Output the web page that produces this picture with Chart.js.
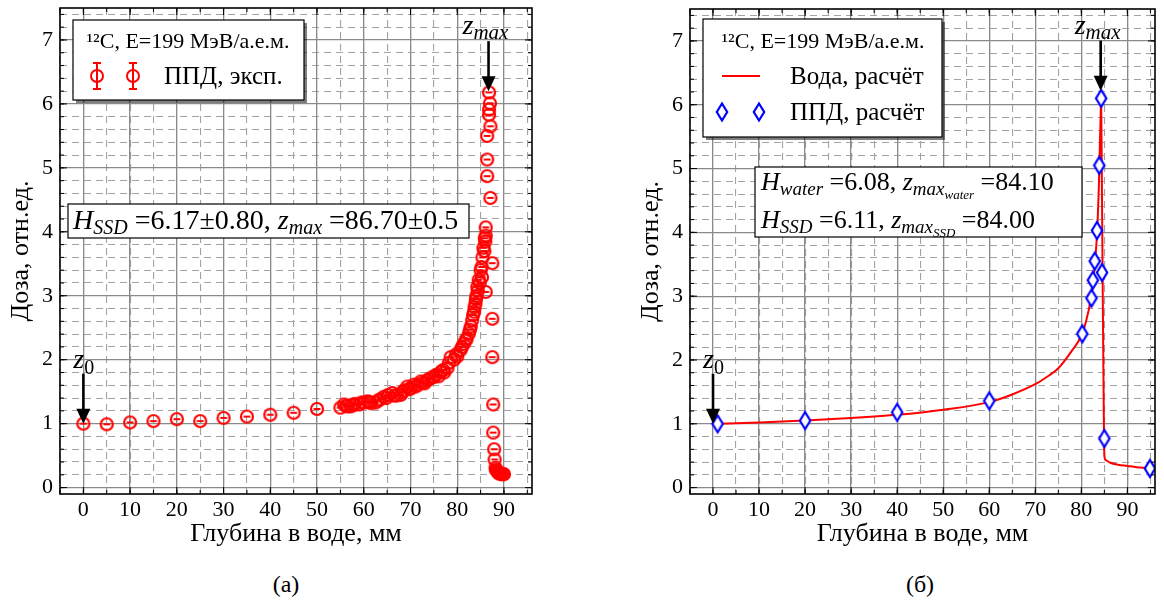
<!DOCTYPE html>
<html lang="ru"><head><meta charset="utf-8">
<title>Bragg</title>
<script src="https://cdn.jsdelivr.net/npm/chart.js@4.4.1/dist/chart.umd.min.js"></script>
<style>
html,body{margin:0;padding:0;background:#fff;}
body{width:1164px;height:608px;position:relative;overflow:hidden;font-family:'Liberation Serif','DejaVu Serif',serif;}
canvas{position:absolute;top:0;}
#c1{left:0;} #c2{left:582px;}
.cap{position:absolute;top:569px;width:60px;text-align:center;font-size:24px;line-height:30px;color:#000;}
</style></head><body>
<canvas id="c1" width="582" height="560"></canvas>
<canvas id="c2" width="582" height="560"></canvas>
<div class="cap" style="left:256px">(а)</div>
<div class="cap" style="left:890px">(б)</div>
<script>
const FF = "'Liberation Serif','DejaVu Serif',serif";

// ---- axes / labels ----
const X_TICKS = [0, 10, 20, 30, 40, 50, 60, 70, 80, 90];
const Y_TICKS = [0, 1, 2, 3, 4, 5, 6, 7];
const X_MIN = -5, X_MAX = 96, Y_MIN = -0.1, Y_MAX = 7.5;
const X_TITLE = 'Глубина в воде, мм';
const Y_TITLE = 'Доза, отн.ед.';
const LEGEND_TITLE = '¹²C, E=199 МэВ/а.е.м.';
const LABEL_EXP = 'ППД, эксп.';
const LABEL_WATER = 'Вода, расчёт';
const LABEL_SSD = 'ППД, расчёт';

// ---- (а) experiment ----
const EXP_X = [0, 5, 10, 15, 20, 25, 30, 35, 40, 45, 50, 55,
  55.8, 56.2, 56.5, 57.2, 57.8, 58.0, 59.0, 59.5, 60.0, 60.8, 61.2, 61.5, 62.5, 63.0, 63.5,
  64.3, 64.8, 65.2, 66.1, 66.5, 67.0, 67.9, 68.2, 68.6, 69.3, 69.7, 70.0, 70.7, 71.0, 71.5,
  72.2, 72.6, 73.0, 73.6, 74.0, 74.5, 75.0, 75.4, 76.0, 76.5, 77.0, 77.2, 77.9, 78.2, 78.6,
  79.3, 79.7, 80.0, 80.7, 81.0, 81.4, 81.8, 82.0, 82.5, 82.7, 82.9, 83.2, 83.4, 83.6, 83.7, 83.9,
  84.0, 84.1, 84.3, 84.4, 84.6, 84.8, 85.0, 85.2, 85.3, 85.4, 85.6, 85.8, 85.9, 86.0, 86.1, 86.1,
  86.1, 86.4, 86.4, 86.4, 86.8, 86.8, 87.0, 86.8, 87.1, 87.1,
  87.5, 87.5, 87.5, 87.7, 87.7, 87.9, 88.0, 88.2, 88.3, 88.5,
  88.7, 88.9, 89.0, 89.3, 89.5, 89.7, 90.0];
const EXP_Y = [1.00, 0.99, 1.02, 1.04, 1.07, 1.04, 1.09, 1.11, 1.14, 1.17, 1.23, 1.25,
  1.30, 1.28, 1.27, 1.27, 1.29, 1.31, 1.30, 1.33, 1.33, 1.35, 1.34, 1.32, 1.33, 1.36, 1.38,
  1.42, 1.40, 1.45, 1.48, 1.44, 1.44, 1.45, 1.49, 1.52, 1.58, 1.54, 1.55, 1.61, 1.58, 1.60,
  1.66, 1.64, 1.63, 1.68, 1.70, 1.72, 1.73, 1.76, 1.74, 1.81, 1.84, 1.80, 1.87, 1.95, 2.04,
  2.00, 2.08, 2.05, 2.15, 2.20, 2.25, 2.30, 2.33, 2.41, 2.47, 2.52, 2.62, 2.70, 2.75, 2.82, 2.88,
  2.95, 3.00, 3.14, 3.08, 3.25, 3.20, 3.40, 3.45, 3.29, 3.60, 3.75, 3.70, 3.90, 3.85, 4.07, 3.94,
  3.06, 4.87, 5.13, 5.50, 5.83, 5.91, 6.01, 6.18, 5.65, 4.53,
  3.51, 2.64, 2.04, 1.30, 0.86, 0.60, 0.44, 0.31, 0.28, 0.26,
  0.24, 0.23, 0.22, 0.22, 0.21, 0.21, 0.21];

// ---- (б) calculations ----
const WATER_X = [0, 10, 20, 30, 40, 50, 60, 65, 70, 72, 75, 78, 80, 81, 82, 82.5, 83, 83.5, 83.8, 84.0, 84.2, 84.3,
  84.45, 84.6, 84.75, 84.9, 85.0, 85.3, 86.3, 88, 90, 92, 95, 96];
const WATER_Y = [1.00, 1.02, 1.05, 1.09, 1.14, 1.22, 1.34, 1.46, 1.62, 1.71, 1.87, 2.15, 2.38, 2.60, 2.93, 3.20, 3.55, 4.10, 4.70, 5.30, 5.85, 6.08,
  4.90, 3.50, 2.20, 1.00, 0.50, 0.43, 0.39, 0.36, 0.34, 0.32, 0.30, 0.29];
const SSD_X = [1.0, 20, 40, 60, 80.2, 82.2, 82.5, 82.9, 83.4, 83.9, 84.3, 84.5, 85.0, 94.9];
const SSD_Y = [1.00, 1.05, 1.18, 1.36, 2.41, 2.97, 3.25, 3.55, 4.03, 5.05, 6.10, 3.37, 0.77, 0.30];

// arrow targets (z, dose)
const ZMAX_A = [86.7, 6.2], Z0_A = [0, 1.0];
const ZMAX_B = [84.2, 6.22], Z0_B = [0, 1.0];

const pts = (xs, ys) => xs.map((x, i) => ({x, y: ys[i]}));

function circleImg() {
  const c = document.createElement('canvas'); c.width = 18; c.height = 18;
  const g = c.getContext('2d'); g.strokeStyle = '#ff0000'; g.lineWidth = 2.2;
  g.beginPath(); g.arc(9, 9, 6, 0, 2 * Math.PI); g.stroke();
  g.lineWidth = 2;
  g.beginPath(); g.moveTo(5.6, 9); g.lineTo(12.4, 9); g.stroke();
  return c;
}
function diamondImg() {
  const c = document.createElement('canvas'); c.width = 16; c.height = 22;
  const g = c.getContext('2d');
  g.beginPath(); g.moveTo(8, 2.5); g.lineTo(13.2, 11); g.lineTo(8, 19.5); g.lineTo(2.8, 11); g.closePath();
  g.fillStyle = '#fff'; g.fill(); g.strokeStyle = '#0000ff'; g.lineWidth = 2.2; g.stroke();
  return c;
}
const CIRC = circleImg(), DIAM = diamondImg();

function minorTicks(a, b, step) {
  const t = []; for (let v = a; v <= b + 1e-9; v += step) t.push({value: Math.round(v * 1000) / 1000}); return t;
}

function makeScales() {
  const tickFont = {family: FF, size: 22};
  const titleFont = {family: FF, size: 26};
  return {
    xm: {type: 'linear', min: X_MIN, max: X_MAX, position: 'bottom',
      afterBuildTicks: s => { s.ticks = minorTicks(-5, 95, 5); },
      ticks: {display: false}, grid: {color: '#a3a3a3', lineWidth: 1.1, drawTicks: false},
      border: {display: false, dash: [7, 5]},
      afterFit: s => { s.height = 0; s.paddingLeft = 0; s.paddingRight = 0; }},
    ym: {type: 'linear', min: Y_MIN, max: Y_MAX, position: 'left',
      afterBuildTicks: s => { s.ticks = minorTicks(0, 7.4, 0.2); },
      ticks: {display: false}, grid: {color: '#a3a3a3', lineWidth: 1.1, drawTicks: false},
      border: {display: false, dash: [7, 5]},
      afterFit: s => { s.width = 0; s.paddingTop = 0; s.paddingBottom = 0; }},
    x: {type: 'linear', min: X_MIN, max: X_MAX, position: 'bottom',
      afterBuildTicks: s => { s.ticks = X_TICKS.map(v => ({value: v})); },
      ticks: {font: tickFont, color: '#000', padding: 3, maxRotation: 0, autoSkip: false},
      grid: {color: '#8a8a8a', lineWidth: 1.3, drawTicks: false}, border: {display: false},
      title: {display: true, text: X_TITLE, font: titleFont, color: '#000', padding: {top: 0, bottom: 10}},
      afterFit: s => { s.height = 66; s.paddingLeft = 0; s.paddingRight = 0; }},
    y: {type: 'linear', min: Y_MIN, max: Y_MAX, position: 'left',
      afterBuildTicks: s => { s.ticks = Y_TICKS.map(v => ({value: v})); },
      ticks: {font: tickFont, color: '#000', padding: 7},
      grid: {color: '#8a8a8a', lineWidth: 1.3, drawTicks: false}, border: {display: false},
      title: {display: true, text: Y_TITLE, font: titleFont, color: '#000', padding: {top: 6, bottom: 0}},
      afterFit: s => { s.width = 60; s.paddingTop = 0; s.paddingBottom = 0; }}
  };
}

function rich(ctx, x, y, parts) {
  let cx = x;
  for (const [t, size, it, dy] of parts) {
    ctx.font = (it ? 'italic ' : '') + size + 'px ' + FF;
    ctx.fillText(t, cx, y + (dy || 0));
    cx += ctx.measureText(t).width;
  }
  return cx;
}
function box(ctx, x, y, w, h, shadow) {
  if (shadow) { ctx.fillStyle = 'rgba(0,0,0,0.5)'; ctx.fillRect(x + 3, y + 3, w, h); }
  ctx.fillStyle = '#fff'; ctx.fillRect(x, y, w, h);
  ctx.strokeStyle = '#000'; ctx.lineWidth = 1.2; ctx.strokeRect(x, y, w, h);
}
function arrow(ctx, px, py, len) {
  ctx.strokeStyle = '#000'; ctx.fillStyle = '#000'; ctx.lineWidth = 2.6;
  ctx.beginPath(); ctx.moveTo(px, py - len); ctx.lineTo(px, py - 14); ctx.stroke();
  ctx.beginPath(); ctx.moveTo(px - 7, py - 15); ctx.lineTo(px + 7, py - 15); ctx.lineTo(px, py); ctx.closePath(); ctx.fill();
}
function errMarker(ctx, x, y) {
  ctx.strokeStyle = '#ff0000'; ctx.lineWidth = 2;
  ctx.beginPath(); ctx.arc(x, y, 6, 0, 2 * Math.PI); ctx.stroke();
  ctx.beginPath();
  ctx.moveTo(x, y - 13); ctx.lineTo(x, y + 13);
  ctx.moveTo(x - 4, y - 13); ctx.lineTo(x + 4, y - 13);
  ctx.moveTo(x - 4, y + 13); ctx.lineTo(x + 4, y + 13);
  ctx.stroke();
}

function decoPlugin(cfg) {
  return {
    id: 'deco' + cfg.id,
    afterDraw(chart) {
      const ctx = chart.ctx, a = chart.chartArea, sc = chart.scales, o = cfg.off;
      ctx.save();
      ctx.textAlign = 'left'; ctx.textBaseline = 'alphabetic';
      // inward ticks
      ctx.strokeStyle = '#000'; ctx.lineWidth = 1;
      ctx.beginPath();
      const tx = (list, len) => list.forEach(t => { const p = sc.x.getPixelForValue(t.value);
        ctx.moveTo(p, a.bottom); ctx.lineTo(p, a.bottom - len); ctx.moveTo(p, a.top); ctx.lineTo(p, a.top + len); });
      const ty = (list, len) => list.forEach(t => { const p = sc.y.getPixelForValue(t.value);
        ctx.moveTo(a.left, p); ctx.lineTo(a.left + len, p); ctx.moveTo(a.right, p); ctx.lineTo(a.right - len, p); });
      tx(sc.xm.ticks, 4); tx(sc.x.ticks, 7); ty(sc.ym.ticks, 4); ty(sc.y.ticks, 7);
      ctx.stroke();
      // frame
      ctx.lineWidth = 1.6; ctx.strokeRect(a.left, a.top, a.right - a.left, a.bottom - a.top);
      // arrows
      ctx.fillStyle = '#000';
      let px = sc.x.getPixelForValue(cfg.zmax[0]), py = sc.y.getPixelForValue(cfg.zmax[1]);
      arrow(ctx, px, py, 50);
      ctx.fillStyle = '#000';
      rich(ctx, px - 26, py - 57, [['z', 28, true], ['max', 21, true, 5]]);
      px = sc.x.getPixelForValue(cfg.z0[0]); py = sc.y.getPixelForValue(cfg.z0[1]);
      arrow(ctx, px, py, 50);
      ctx.fillStyle = '#000';
      rich(ctx, px - 10, py - 56, [['z', 28, true], ['0', 20, false, 6]]);
      // legend
      const L = cfg.legend;
      box(ctx, L.box[0] - o, L.box[1], L.box[2], L.box[3], true);
      ctx.fillStyle = '#000'; ctx.font = '22px ' + FF; ctx.textAlign = 'center';
      ctx.fillText(LEGEND_TITLE, L.tx - o, 48);
      ctx.textAlign = 'left';
      for (const e of L.entries) {
        if (e.type === 'err') { errMarker(ctx, 97 - o, e.my); errMarker(ctx, 133 - o, e.my); }
        else if (e.type === 'line') {
          ctx.strokeStyle = '#ff0000'; ctx.lineWidth = 2;
          ctx.beginPath(); ctx.moveTo(722 - o, e.my); ctx.lineTo(760 - o, e.my); ctx.stroke();
        } else if (e.type === 'diam') {
          ctx.drawImage(DIAM, 722 - o - 8, e.my - 11); ctx.drawImage(DIAM, 759 - o - 8, e.my - 11);
        }
        ctx.fillStyle = '#000'; ctx.font = '25px ' + FF;
        ctx.fillText(e.text, e.tx - o, e.ty);
      }
      // note box
      const N = cfg.note;
      box(ctx, N.box[0] - o, N.box[1], N.box[2], N.box[3], false);
      ctx.fillStyle = '#000';
      for (const ln of N.lines) rich(ctx, ln.x - o, ln.y, ln.parts);
      ctx.restore();
    }
  };
}

function makeChart(id, datasets, padding, deco) {
  return new Chart(document.getElementById(id), {
    type: 'scatter',
    data: {datasets},
    options: {
      responsive: false, animation: false, devicePixelRatio: 1,
      layout: {padding},
      plugins: {legend: {display: false}, tooltip: {enabled: false}},
      scales: makeScales()
    },
    plugins: [decoPlugin(deco)]
  });
}

makeChart('c1', [
  {label: LABEL_EXP, data: pts(EXP_X, EXP_Y), pointStyle: CIRC, pointRadius: 7, showLine: false}
], {left: 0, top: 6, right: 50, bottom: 0}, {
  id: 1, off: 0, zmax: ZMAX_A, z0: Z0_A,
  legend: {box: [73, 20, 231, 80], tx: 188, entries: [{type: 'err', my: 76, text: LABEL_EXP, tx: 164, ty: 84}]},
  note: {box: [68, 204, 401, 34], lines: [{x: 73, y: 229, parts: [
    ['H', 28, true], ['SSD', 20, true, 5], [' =6.17±0.80, ', 28, false],
    ['z', 28, true], ['max', 20, true, 5], [' =86.70±0.5', 28, false]]}]}
});

makeChart('c2', [
  {label: LABEL_SSD, data: pts(SSD_X, SSD_Y), pointStyle: DIAM, pointRadius: 8, showLine: false},
  {label: LABEL_WATER, data: pts(WATER_X, WATER_Y), showLine: true, pointRadius: 0, borderColor: '#ff0000',
   borderWidth: 2, cubicInterpolationMode: 'monotone', fill: false}
], {left: 48, top: 6, right: 2, bottom: 0}, {
  id: 2, off: 582, zmax: ZMAX_B, z0: Z0_B,
  legend: {box: [703, 19, 239, 118], tx: 823, entries: [
    {type: 'line', my: 76, text: LABEL_WATER, tx: 790, ty: 84},
    {type: 'diam', my: 112, text: LABEL_SSD, tx: 790, ty: 120}]},
  note: {box: [755, 167, 327, 70], lines: [
    {x: 761, y: 190, parts: [['H', 26, true], ['water', 19, true, 5], [' =6.08, ', 26, false],
      ['z', 26, true], ['max', 19, true, 5], ['water', 13, true, 9], [' =84.10', 26, false]]},
    {x: 761, y: 228, parts: [['H', 26, true], ['SSD', 19, true, 5], [' =6.11, ', 26, false],
      ['z', 26, true], ['max', 19, true, 5], ['SSD', 13, true, 9], [' =84.00', 26, false]]}]}
});
</script></body></html>
